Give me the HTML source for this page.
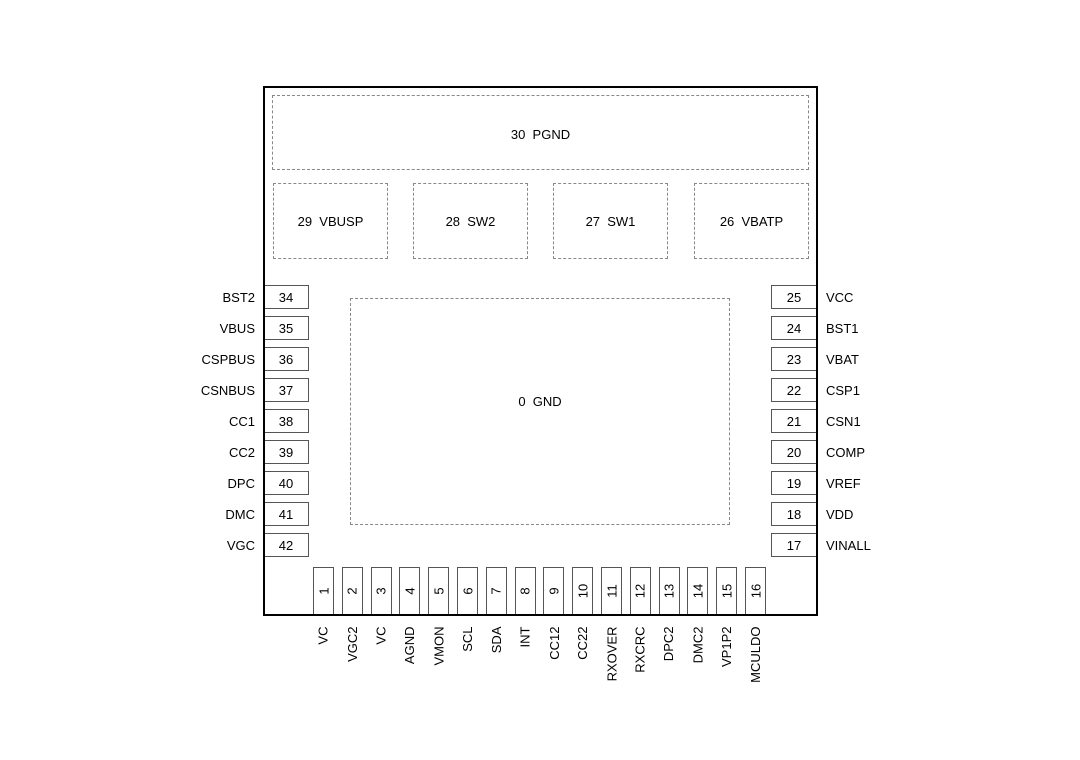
<!DOCTYPE html>
<html><head><style>
body{margin:0;width:1080px;height:760px;background:#fff;font-family:"Liberation Sans",sans-serif;font-size:13px;color:#000;position:relative;overflow:hidden}
.a{position:absolute}
.main{left:263px;top:86px;width:551px;height:526px;border:2px solid #000;z-index:2}
.d{position:absolute;border:1px dashed #888;display:flex;align-items:center;justify-content:center;box-sizing:border-box}
.p{position:absolute;border:1px solid #555;box-sizing:border-box;display:flex;align-items:center;justify-content:center}
.lt{position:absolute;width:120px;text-align:right;line-height:24px;top:1px}
.rt{position:absolute;line-height:24px}
.b{position:absolute;width:21px;height:48px;top:567px;border:1px solid #555;box-sizing:border-box}
.b span,.bl span{position:absolute;left:50%;top:50%;transform:translate(-50%,-50%) rotate(-90deg);white-space:nowrap}
.bl{position:absolute;top:626px;width:21px;height:0}
.bl span{transform:rotate(-90deg);transform-origin:right center;right:50%;top:-7px;left:auto;text-align:right;margin-right:0}
</style></head><body>
<div class="a main"></div>
<div class="d" style="left:272px;top:95px;width:537px;height:75px;padding-top:4px">30&nbsp;&nbsp;PGND</div>
<div class="d" style="left:273px;top:183px;width:115px;height:76px">29&nbsp;&nbsp;VBUSP</div>
<div class="d" style="left:413px;top:183px;width:115px;height:76px">28&nbsp;&nbsp;SW2</div>
<div class="d" style="left:553px;top:183px;width:115px;height:76px">27&nbsp;&nbsp;SW1</div>
<div class="d" style="left:694px;top:183px;width:115px;height:76px">26&nbsp;&nbsp;VBATP</div>
<div class="d" style="left:350px;top:298px;width:380px;height:227px;padding-bottom:20px">0&nbsp;&nbsp;GND</div>
<div id="pins"></div>
<script>
var L=[["34","BST2"],["35","VBUS"],["36","CSPBUS"],["37","CSNBUS"],["38","CC1"],["39","CC2"],["40","DPC"],["41","DMC"],["42","VGC"]];
var R=[["25","VCC"],["24","BST1"],["23","VBAT"],["22","CSP1"],["21","CSN1"],["20","COMP"],["19","VREF"],["18","VDD"],["17","VINALL"]];
var B=["VC","VGC2","VC","AGND","VMON","SCL","SDA","INT","CC12","CC22","RXOVER","RXCRC","DPC2","DMC2","VP1P2","MCULDO"];
var h="";
for(var i=0;i<9;i++){var y=285+31*i;
h+='<div class="p" style="left:263px;top:'+y+'px;width:46px;height:24px">'+L[i][0]+'</div>';
h+='<div class="lt" style="left:135px;top:'+(y+1)+'px">'+L[i][1]+'</div>';
h+='<div class="p" style="left:771px;top:'+y+'px;width:46px;height:24px">'+R[i][0]+'</div>';
h+='<div class="rt" style="left:826px;top:'+(y+1)+'px">'+R[i][1]+'</div>';}
for(var j=0;j<16;j++){var x=313+28.8*j;
h+='<div class="b" style="left:'+x+'px"><span>'+(j+1)+'</span></div>';
h+='<div class="bl" style="left:'+x+'px"><span>'+B[j]+'</span></div>';}
document.getElementById("pins").innerHTML=h;
</script>
</body></html>
